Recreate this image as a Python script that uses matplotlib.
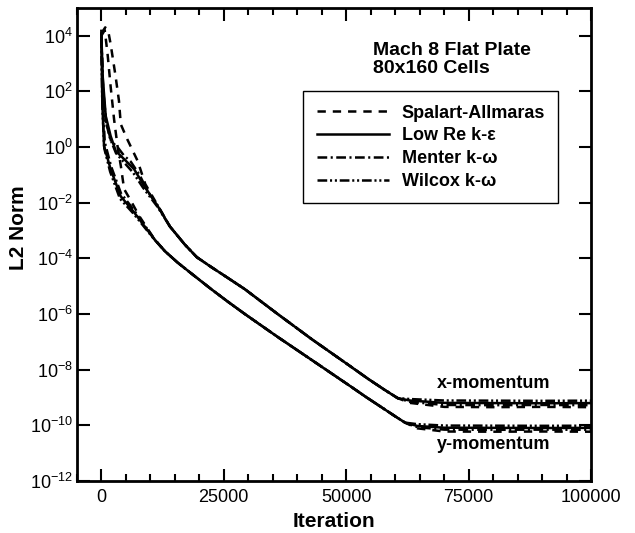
"""
Convergence history (L2 norm of x/y momentum residuals) for the Mach 8 flat plate,
four turbulence models, 80x160 grid.
"""
import matplotlib
matplotlib.use("Agg")
import matplotlib.pyplot as plt
from matplotlib.ticker import MultipleLocator, NullLocator, FixedLocator

plt.rcParams["font.family"] = ["Liberation Sans", "DejaVu Sans"]
plt.rcParams["mathtext.default"] = "regular"
plt.rcParams["axes.unicode_minus"] = False
plt.rcParams["lines.scale_dashes"] = False

# ---- data --------------------------------------------------------------------
# shared middle part of the x-momentum and y-momentum histories
x_mid_iter = [14000, 17000, 19500, 22500, 25800, 29300, 36000, 43000, 50900,
              54600, 57800, 60500]
x_mid_res = [1.4e-3, 3.2e-4, 1.1e-4, 4.8e-5, 2.0e-5, 7.8e-6, 1.0e-6, 1.23e-7, 1.3e-8,
             4.5e-9, 1.9e-9, 9.5e-10]
y_mid_iter = [13000, 15600, 18800, 22450, 25800, 29300, 36000, 43000, 50900,
              54000, 57000, 60000, 62000]
y_mid_res = [1.8e-4, 7e-5, 2.5e-5, 7.8e-6, 2.8e-6, 1.0e-6, 1.5e-7, 2.2e-8, 2.5e-9,
             1.05e-9, 4.7e-10, 2.1e-10, 1.25e-10]
x_tail_iter = [63000, 70000, 80000, 90000, 100000]
y_tail_iter = [64500, 70000, 80000, 90000, 100000]

# Spalart-Allmaras
sa_x_iter = [0, 800, 1400, 1900, 2900, 3600, 3970, 5300, 7400, 8970, 11500]
sa_x_res = [1.2e4, 2e4, 1.5e4, 5e3, 3.6e2, 46, 6.6, 1.9, 0.32, 4.7e-2, 8e-3]
sa_x_tail = [6.4e-10, 4.6e-10, 4.5e-10, 4.6e-10, 4.5e-10]
sa_y_iter = [0, 700, 1300, 1900, 2600, 3300, 4000, 4650, 6000, 7700, 10800]
sa_y_res = [1e4, 1.6e4, 2e3, 1.5e2, 10, 1.1, 0.2, 3.1e-2, 1.2e-2, 3.4e-3, 5e-4]
sa_y_tail = [7.8e-11, 6.0e-11, 5.9e-11, 6.0e-11, 5.9e-11]

# Low Re k-epsilon
lowre_x_iter = [0, 300, 900, 1900, 2940, 4650, 6700, 8760, 11500]
lowre_x_res = [1.2e4, 3e2, 13, 2.5, 0.72, 0.37, 0.16, 0.04, 7.6e-3]
lowre_x_tail = [7.8e-10, 6.4e-10, 6.3e-10, 6.2e-10, 6.3e-10]
lowre_y_iter = [0, 200, 550, 1900, 3960, 6700, 10800]
lowre_y_res = [1.5e4, 40, 1.1, 0.16, 1.7e-2, 4.5e-3, 4.9e-4]
lowre_y_tail = [9.5e-11, 8.2e-11, 8.1e-11, 8.0e-11, 8.1e-11]

# Menter k-omega
menter_x_iter = [0, 400, 1000, 2000, 3300, 4600, 6000, 7800, 9500, 11500]
menter_x_res = [8e3, 1e2, 8, 1.6, 1.0, 0.5, 0.3, 0.1, 0.025, 8e-3]
menter_x_tail = [7.0e-10, 5.4e-10, 5.3e-10, 5.4e-10, 5.3e-10]
menter_y_iter = [0, 250, 700, 2000, 4000, 6800, 10800]
menter_y_res = [9e3, 60, 1.5, 0.2, 2.2e-2, 5e-3, 5e-4]
menter_y_tail = [8.6e-11, 7.0e-11, 6.9e-11, 7.0e-11, 6.9e-11]

# Wilcox k-omega
wilcox_x_iter = [0, 300, 800, 1800, 3000, 4500, 6500, 8500, 11500]
wilcox_x_res = [1e4, 2e2, 10, 2, 0.6, 0.3, 0.12, 0.035, 7e-3]
wilcox_x_tail = [8.8e-10, 7.8e-10, 7.7e-10, 7.6e-10, 7.7e-10]
wilcox_y_iter = [0, 200, 600, 1800, 3800, 6600, 10800]
wilcox_y_res = [1.2e4, 30, 0.9, 0.13, 1.4e-2, 4e-3, 4.8e-4]
wilcox_y_tail = [1.1e-10, 9.8e-11, 9.7e-11, 9.6e-11, 9.7e-11]

labels = ["Spalart-Allmaras", "Low Re k-\u03b5", "Menter k-\u03c9", "Wilcox k-\u03c9"]
x_ticks = [0, 25000, 50000, 75000, 100000]
y_ticks = [1e-12, 1e-10, 1e-8, 1e-6, 1e-4, 1e-2, 1e0, 1e2, 1e4]

styles = [
    (0, (6, 5)),                       # dashed
    "-",                               # solid
    (0, (7, 2.5, 1.5, 2.5)),           # dash-dot
    (0, (7, 2, 1.5, 2, 1.5, 2)),       # dash-dot-dot
]

fig = plt.figure(figsize=(6.35, 5.33), dpi=100)
ax = fig.add_axes([0.121, 0.0976, 0.81, 0.8875])

curves = [
    (sa_x_iter, sa_x_res, sa_x_tail, sa_y_iter, sa_y_res, sa_y_tail),
    (lowre_x_iter, lowre_x_res, lowre_x_tail, lowre_y_iter, lowre_y_res, lowre_y_tail),
    (menter_x_iter, menter_x_res, menter_x_tail, menter_y_iter, menter_y_res, menter_y_tail),
    (wilcox_x_iter, wilcox_x_res, wilcox_x_tail, wilcox_y_iter, wilcox_y_res, wilcox_y_tail),
]
for (xi, xr, xt, yi, yr, yt), ls, lab in zip(curves, styles, labels):
    ax.plot(xi + x_mid_iter + x_tail_iter, xr + x_mid_res + xt,
            color="black", lw=1.8, ls=ls, label=lab)
    ax.plot(yi + y_mid_iter + y_tail_iter, yr + y_mid_res + yt,
            color="black", lw=1.8, ls=ls)

ax.set_yscale("log")
ax.set_xlim(-5000, 100000)
ax.set_ylim(1e-12, 1e5)
ax.xaxis.set_major_locator(FixedLocator(x_ticks))
ax.xaxis.set_minor_locator(MultipleLocator(5000))
ax.yaxis.set_major_locator(FixedLocator(y_ticks))
ax.yaxis.set_minor_locator(NullLocator())

for s in ax.spines.values():
    s.set_linewidth(2)
ax.tick_params(which="both", direction="in", top=True, right=True, width=1.5)
ax.tick_params(which="major", length=9, labelsize=13)
ax.tick_params(which="minor", length=5)
ax.tick_params(axis="x", pad=6)
ax.tick_params(axis="y", pad=3)

ax.set_xlabel("Iteration", fontsize=15, fontweight="bold")
ax.set_ylabel("L2 Norm", fontsize=15, fontweight="bold")
ax.xaxis.set_label_coords(0.5, -0.066)
ax.yaxis.set_label_coords(-0.095, 0.535)

ax.text(0.576, 0.911, "Mach 8 Flat Plate", transform=ax.transAxes,
        fontsize=14, fontweight="bold", ha="left", va="center")
ax.text(0.576, 0.873, "80x160 Cells", transform=ax.transAxes,
        fontsize=14, fontweight="bold", ha="left", va="center")
ax.text(80000, 3.2e-9, "x-momentum", fontsize=13, fontweight="bold",
        ha="center", va="center")
ax.text(80000, 2e-11, "y-momentum", fontsize=13, fontweight="bold",
        ha="center", va="center")

leg = ax.legend(loc="upper left", bbox_to_anchor=(0.44, 0.8245), borderaxespad=0,
                prop={"size": 13, "weight": "bold"}, handlelength=4.0,
                handletextpad=0.7, labelspacing=0.32, borderpad=0.75,
                fancybox=False, framealpha=1)
leg.get_frame().set_edgecolor("black")
leg.get_frame().set_linewidth(1)

fig.savefig("out.png", dpi=100)
